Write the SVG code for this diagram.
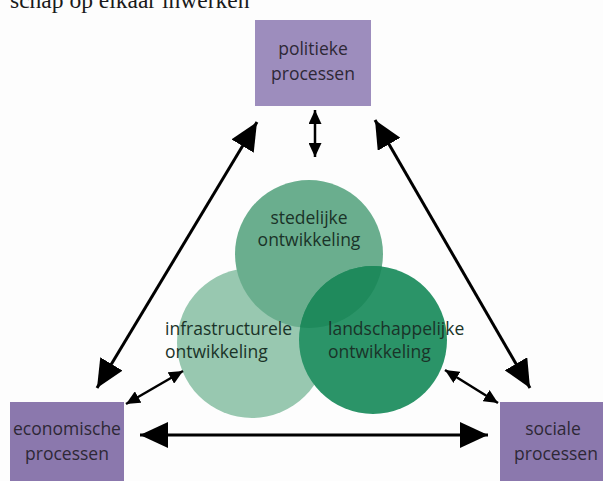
<svg xmlns="http://www.w3.org/2000/svg" width="603" height="481" viewBox="0 0 603 481">
<defs>
<style>
.box{stroke:none}
.bt{font-family:"Open Sans","Noto Sans",sans-serif;font-size:17.5px;fill:#2e2836;text-anchor:middle}
.ct{font-family:"Open Sans","Noto Sans",sans-serif;font-size:17.5px;fill:#1a3328}
.big{stroke:#000;stroke-width:3;fill:none;marker-start:url(#hb);marker-end:url(#hb)}
.sm{stroke:#000;stroke-width:2.5;fill:none;marker-start:url(#hs);marker-end:url(#hs)}
</style>
<marker id="hb" markerUnits="userSpaceOnUse" markerWidth="28" markerHeight="26" refX="28" refY="13" orient="auto-start-reverse" viewBox="0 0 28 26"><path d="M0,0 L28,13 L0,26 z" fill="#000"/></marker>
<marker id="hs" markerUnits="userSpaceOnUse" markerWidth="14" markerHeight="13" refX="14" refY="6.5" orient="auto-start-reverse" viewBox="0 0 14 13"><path d="M0,0 L14,6.5 L0,13 z" fill="#000"/></marker>
<clipPath id="ctop"><circle cx="309" cy="254" r="74"/></clipPath>
</defs>
<rect width="603" height="481" fill="#fdfdfd"/>
<text x="10" y="8" font-family="Liberation Serif,serif" font-size="23.5" fill="#1a1a1a">schap op elkaar inwerken</text>
<g id="circles">
<g id="infrastructurele">
<circle cx="252" cy="343" r="75" fill="#98c8b0"/>
</g>
<g id="stedelijke">
<circle cx="309" cy="254" r="74" fill="#6aae8e"/>
</g>
<g id="landschappelijke">
<circle cx="373" cy="340" r="74" fill="#2b9468"/>
<circle cx="373" cy="340" r="74" fill="#1f8a5c" clip-path="url(#ctop)"/>
</g>
</g>
<g id="circle-labels">
<text class="ct" x="309" y="224" text-anchor="middle">stedelijke</text>
<text class="ct" x="309" y="246" text-anchor="middle">ontwikkeling</text>
<text class="ct" x="165" y="335">infrastructurele</text>
<text class="ct" x="165" y="358">ontwikkeling</text>
<text class="ct" x="328" y="335">landschappelijke</text>
<text class="ct" x="328" y="358">ontwikkeling</text>
</g>
<g id="politieke">
<rect class="box" x="255" y="20" width="116" height="86" fill="#9d8dbd"/>
<text class="bt" x="313" y="55">politieke</text>
<text class="bt" x="313" y="80">processen</text>
</g>
<g id="economische">
<rect class="box" x="10" y="402" width="114" height="85" fill="#8b78ad"/>
<text class="bt" x="67" y="435">economische</text>
<text class="bt" x="67" y="460">processen</text>
</g>
<g id="sociale">
<rect class="box" x="500" y="402" width="112" height="85" fill="#8b78ad"/>
<text class="bt" x="553" y="435">sociale</text>
<text class="bt" x="556" y="460">processen</text>
</g>
<g id="connectors">
<line class="big" x1="257" y1="122" x2="97" y2="388"/>
<line class="big" x1="375" y1="120" x2="530" y2="388"/>
<line class="big" x1="140" y1="435" x2="488" y2="435"/>
<line class="sm" x1="315" y1="110" x2="315" y2="157"/>
<line class="sm" x1="126" y1="404" x2="183" y2="371"/>
<line class="sm" x1="445" y1="370" x2="498" y2="403"/>
</g>
</svg>
